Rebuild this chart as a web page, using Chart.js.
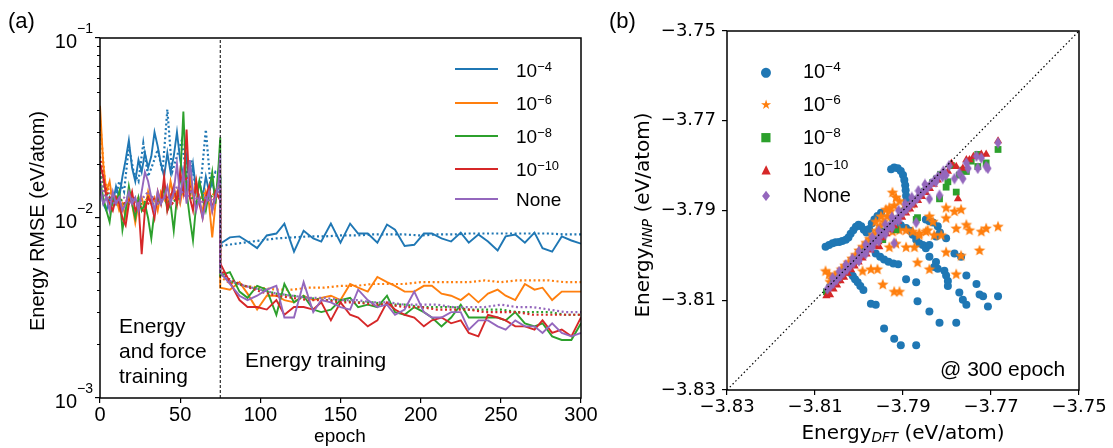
<!DOCTYPE html>
<html><head><meta charset="utf-8">
<script src="https://cdn.jsdelivr.net/npm/chart.js@4.4.1/dist/chart.umd.min.js"></script>
<style>
body{margin:0;background:#fff;}
#wrap{position:relative;width:1113px;height:448px;overflow:hidden;background:#fff;font-family:"Liberation Sans",Arial,sans-serif;color:#000}
.abs{position:absolute;white-space:nowrap;line-height:1}
.sp{font-size:0.68em;position:relative;top:-0.5em}
.sb{font-size:0.68em;font-style:italic;position:relative;top:0.22em}
.dj{font-family:"DejaVu Sans",sans-serif}
.ln{position:absolute;height:2px;width:43px}
.rot{transform:translate(-50%,-50%) rotate(-90deg)}
.mk{transform:translate(-50%,-50%)}
</style></head><body>
<div id="wrap">
<canvas id="c1" width="600" height="448" style="position:absolute;left:0;top:0"></canvas>
<canvas id="c2" width="513" height="448" style="position:absolute;left:600px;top:0"></canvas>

<div class="abs" style="left:8px;top:10px;font-size:22px">(a)</div>
<div class="abs" style="left:609px;top:10px;font-size:22px">(b)</div>

<div class="abs rot" style="left:37px;top:221px;font-size:20px">Energy RMSE (eV/atom)</div>
<div class="abs" style="left:340px;top:426px;font-size:19px;transform:translateX(-50%)">epoch</div>
<div class="abs" style="left:119px;top:313px;font-size:21px;line-height:25px">Energy<br>and force<br>training</div>
<div class="abs" style="left:245px;top:349px;font-size:21px">Energy training</div>

<div class="ln" style="left:455px;top:68px;background:#1f77b4"></div>
<div class="ln" style="left:455px;top:102px;background:#ff7f0e"></div>
<div class="ln" style="left:455px;top:135px;background:#2ca02c"></div>
<div class="ln" style="left:455px;top:168px;background:#d62728"></div>
<div class="ln" style="left:455px;top:198px;background:#9467bd"></div>
<div class="abs" style="left:516px;top:61px;font-size:19px">10<span class="sp">−4</span></div>
<div class="abs" style="left:516px;top:94px;font-size:19px">10<span class="sp">−6</span></div>
<div class="abs" style="left:516px;top:127px;font-size:19px">10<span class="sp">−8</span></div>
<div class="abs" style="left:516px;top:160px;font-size:19px">10<span class="sp">−10</span></div>
<div class="abs" style="left:516px;top:190px;font-size:19px">None</div>

<div class="abs dj rot" style="left:642px;top:215px;font-size:20px">Energy<span class="sb">NNP</span> (eV/atom)</div>
<div class="abs dj" style="left:903px;top:422px;font-size:20px;transform:translateX(-50%)">Energy<span class="sb">DFT</span> (eV/atom)</div>
<div class="abs" style="left:940px;top:358px;font-size:21px">@ 300 epoch</div>

<div class="abs dj mk" style="left:766px;top:71px;font-size:13px;color:#1f77b4">●</div>
<div class="abs dj mk" style="left:766px;top:104px;font-size:13px;color:#ff7f0e">★</div>
<div class="abs dj mk" style="left:766px;top:137px;font-size:12px;color:#2ca02c">■</div>
<div class="abs dj mk" style="left:766px;top:169px;font-size:12px;color:#d62728">▲</div>
<div class="abs dj mk" style="left:766px;top:196px;font-size:14px;color:#9467bd">♦</div>
<div class="abs" style="left:803px;top:61px;font-size:20px">10<span class="sp">−4</span></div>
<div class="abs" style="left:803px;top:94px;font-size:20px">10<span class="sp">−6</span></div>
<div class="abs" style="left:803px;top:127px;font-size:20px">10<span class="sp">−8</span></div>
<div class="abs" style="left:803px;top:159px;font-size:20px">10<span class="sp">−10</span></div>
<div class="abs" style="left:803px;top:185px;font-size:20px">None</div>
</div>
<script>
// ---------------- DATA (left panel) ----------------
const seriesLabels = ['1e-4','1e-6','1e-8','1e-10','None'];
const epochTicks = [0,50,100,150,200,250,300];
const rmseMajorTicks = [0.001,0.01,0.1];
const rmseMinorTicks = [0.002,0.003,0.004,0.005,0.006,0.007,0.008,0.009,0.02,0.03,0.04,0.05,0.06,0.07,0.08,0.09];
const switchEpoch = 75;

const epochsEarly = [0,2,4,6,8,10,12,14,16,18,20,22,24,26,28,30,32,34,36,38,40,42,44,46,48,50,52,54,56,58,60,62,64,66,68,70,72,74,75];
const epochsLate = [75,81,87,92,98,104,110,115,121,127,133,138,144,150,156,161,167,173,179,184,190,196,202,207,213,219,225,230,236,242,248,253,259,265,271,276,282,288,294,300];
const epochsDotEarly = [0,3,6,9,12,15,18,21,24,27,30,33,36,39,42,45,48,51,54,57,60,63,66,69,72,75];
const epochsDotLate = [75,80,90,100,110,120,130,140,150,160,170,180,190,200,210,220,230,240,250,260,270,280,290,300];

const blueSolidEarly = [0.015,0.012,0.011,0.013,0.012,0.015,0.013,0.017,0.021,0.027,0.019,0.016,0.021,0.018,0.023,0.019,0.022,0.030,0.025,0.020,0.017,0.023,0.018,0.022,0.030,0.021,0.017,0.022,0.015,0.020,0.014,0.016,0.013,0.017,0.014,0.016,0.013,0.015,0.016];
const orangeSolidEarly = [0.042,0.020,0.014,0.016,0.012,0.013,0.011,0.012,0.010,0.013,0.012,0.0094,0.012,0.013,0.011,0.014,0.012,0.013,0.011,0.014,0.013,0.012,0.016,0.013,0.014,0.012,0.015,0.013,0.017,0.013,0.016,0.012,0.011,0.014,0.012,0.0078,0.012,0.017,0.020];
const greenSolidEarly = [0.016,0.013,0.011,0.0095,0.013,0.012,0.014,0.0086,0.011,0.015,0.012,0.010,0.013,0.011,0.012,0.010,0.0077,0.011,0.013,0.012,0.015,0.011,0.012,0.0085,0.013,0.016,0.039,0.014,0.010,0.0075,0.012,0.016,0.013,0.011,0.014,0.018,0.012,0.020,0.028];
const redSolidEarly = [0.020,0.017,0.013,0.012,0.011,0.013,0.012,0.010,0.0091,0.012,0.014,0.011,0.012,0.0063,0.011,0.013,0.012,0.010,0.014,0.012,0.017,0.011,0.013,0.015,0.012,0.018,0.014,0.031,0.013,0.011,0.016,0.012,0.010,0.013,0.015,0.011,0.014,0.013,0.014];
const purpleSolidEarly = [0.015,0.012,0.013,0.011,0.014,0.012,0.013,0.011,0.012,0.014,0.012,0.013,0.011,0.014,0.018,0.016,0.013,0.011,0.014,0.012,0.013,0.015,0.012,0.014,0.020,0.013,0.018,0.012,0.021,0.014,0.011,0.013,0.010,0.012,0.014,0.011,0.013,0.016,0.023];

const blueSolidLate = [0.0072,0.0078,0.0079,0.0074,0.0068,0.0080,0.0082,0.0093,0.0065,0.0085,0.0077,0.0074,0.0093,0.0073,0.0093,0.0082,0.0082,0.0073,0.0092,0.0086,0.0070,0.0071,0.0082,0.0082,0.0077,0.0074,0.0083,0.0073,0.0081,0.0074,0.0066,0.0079,0.0081,0.0073,0.0083,0.0068,0.0065,0.0079,0.0075,0.0072];
const orangeSolidLate = [0.0041,0.0040,0.0044,0.0038,0.0031,0.0037,0.0037,0.0035,0.0034,0.0037,0.0035,0.0036,0.0037,0.0035,0.0043,0.0041,0.0039,0.0047,0.0044,0.0042,0.0039,0.0039,0.0042,0.0042,0.0038,0.0037,0.0035,0.0038,0.0034,0.0038,0.0040,0.0037,0.0035,0.0043,0.0040,0.0041,0.0035,0.0039,0.0039,0.0039];
const greenSolidLate = [0.0048,0.0050,0.0039,0.0036,0.0042,0.0040,0.0029,0.0043,0.0034,0.0037,0.0031,0.0030,0.0031,0.0035,0.0036,0.0032,0.0033,0.0032,0.0037,0.0030,0.0029,0.0032,0.0030,0.0028,0.0025,0.0028,0.0033,0.0028,0.0028,0.0028,0.0028,0.0027,0.0030,0.0026,0.0025,0.0026,0.0022,0.0021,0.0021,0.0026];
const redSolidLate = [0.0056,0.0044,0.0035,0.0032,0.0032,0.0031,0.0035,0.0029,0.0032,0.0032,0.0031,0.0034,0.0027,0.0034,0.0029,0.0028,0.0025,0.0027,0.0034,0.0031,0.0029,0.0028,0.0025,0.0027,0.0028,0.0026,0.0027,0.0023,0.0022,0.0029,0.0028,0.0027,0.0025,0.0025,0.0024,0.0027,0.0023,0.0024,0.0022,0.0028];
const purpleSolidLate = [0.0050,0.0043,0.0037,0.0035,0.0037,0.0040,0.0042,0.0028,0.0028,0.0044,0.0030,0.0035,0.0034,0.0032,0.0031,0.0040,0.0035,0.0032,0.0033,0.0029,0.0031,0.0039,0.0030,0.0028,0.0028,0.0030,0.0030,0.0024,0.0027,0.0027,0.0025,0.0024,0.0027,0.0025,0.0025,0.0023,0.0026,0.0023,0.0022,0.0023];

const blueDotEarly = [0.018,0.015,0.014,0.012,0.016,0.014,0.025,0.018,0.016,0.026,0.017,0.020,0.024,0.018,0.040,0.018,0.022,0.027,0.017,0.021,0.014,0.016,0.031,0.015,0.018,0.017];
const orangeDotEarly = [0.035,0.016,0.014,0.013,0.013,0.012,0.013,0.012,0.013,0.012,0.013,0.012,0.013,0.013,0.012,0.014,0.013,0.013,0.014,0.013,0.014,0.013,0.014,0.013,0.014,0.015];
const greenDotEarly = [0.018,0.014,0.013,0.012,0.013,0.012,0.012,0.013,0.012,0.012,0.013,0.012,0.012,0.013,0.012,0.013,0.012,0.014,0.016,0.013,0.012,0.013,0.012,0.013,0.014,0.016];
const redDotEarly = [0.022,0.015,0.013,0.012,0.012,0.012,0.013,0.012,0.012,0.011,0.012,0.013,0.012,0.013,0.013,0.012,0.013,0.014,0.017,0.014,0.013,0.012,0.013,0.012,0.013,0.014];
const purpleDotEarly = [0.017,0.013,0.013,0.012,0.013,0.013,0.012,0.013,0.012,0.013,0.014,0.013,0.012,0.013,0.013,0.013,0.015,0.014,0.013,0.014,0.013,0.012,0.013,0.012,0.013,0.015];

const blueDotLate = [0.0070,0.0071,0.0073,0.0075,0.0077,0.0078,0.0079,0.0079,0.0080,0.0080,0.0081,0.0081,0.0081,0.0080,0.0081,0.0081,0.0082,0.0082,0.0082,0.0082,0.0082,0.0082,0.0081,0.0081];
const orangeDotLate = [0.0047,0.0044,0.0042,0.0041,0.0040,0.0040,0.0041,0.0041,0.0042,0.0042,0.0043,0.0043,0.0043,0.0044,0.0044,0.0044,0.0044,0.0045,0.0044,0.0045,0.0045,0.0045,0.0044,0.0044];
const greenDotLate = [0.0050,0.0045,0.0042,0.0040,0.0038,0.0037,0.0036,0.0035,0.0035,0.0034,0.0034,0.0033,0.0033,0.0032,0.0032,0.0032,0.0031,0.0031,0.0031,0.0030,0.0030,0.0030,0.0029,0.0029];
const redDotLate = [0.0052,0.0046,0.0042,0.0039,0.0037,0.0036,0.0035,0.0035,0.0034,0.0034,0.0033,0.0033,0.0032,0.0032,0.0031,0.0031,0.0031,0.0030,0.0030,0.0030,0.0029,0.0029,0.0029,0.0029];
const purpleDotLate = [0.0049,0.0045,0.0042,0.0040,0.0038,0.0037,0.0036,0.0036,0.0035,0.0035,0.0034,0.0034,0.0033,0.0033,0.0033,0.0032,0.0032,0.0032,0.0033,0.0032,0.0032,0.0031,0.0030,0.0030];

// ---------------- DATA (right panel): [E_DFT, E_NNP] in eV/atom ----------------
const energyTicks = [-3.83,-3.81,-3.79,-3.77,-3.75];
const parityLine = [-3.83,-3.75];
const parity1e4 = [[-3.8076,-3.7981],[-3.8068,-3.7977],[-3.8060,-3.7973],[-3.8053,-3.7971],[-3.8045,-3.7970],[-3.8038,-3.7968],[-3.8030,-3.7965],[-3.8024,-3.7960],[-3.8019,-3.7952],[-3.8013,-3.7944],[-3.8007,-3.7936],[-3.8001,-3.7932],[-3.7995,-3.7935],[-3.7989,-3.7943],[-3.7983,-3.7949],[-3.7977,-3.7941],[-3.7971,-3.7929],[-3.7965,-3.7920],[-3.7958,-3.7912],[-3.7950,-3.7905],
[-3.7927,-3.7808],[-3.7920,-3.7804],[-3.7912,-3.7806],[-3.7905,-3.7812],[-3.7900,-3.7821],[-3.7897,-3.7832],[-3.7895,-3.7844],[-3.7894,-3.7855],[-3.7893,-3.7867],[-3.7892,-3.7878],[-3.7889,-3.7888],
[-3.8030,-3.8026],[-3.8025,-3.8032],[-3.8019,-3.8039],[-3.8014,-3.8046],[-3.8009,-3.8053],[-3.8003,-3.8060],[-3.7997,-3.8068],[-3.7990,-3.8077],[-3.7973,-3.8108],[-3.7962,-3.8110],
[-3.7962,-3.7996],[-3.7952,-3.8003],[-3.7943,-3.8009],[-3.7933,-3.8014],[-3.7922,-3.8018],[-3.7911,-3.8020],
[-3.7905,-3.7933],[-3.7893,-3.7939],[-3.7884,-3.7945],[-3.7878,-3.7954],[-3.7870,-3.7965],[-3.7863,-3.7973],[-3.7855,-3.7977],[-3.7848,-3.7984],
[-3.7848,-3.7920],[-3.7840,-3.7924],[-3.7832,-3.7927],[-3.7821,-3.7935],[-3.7816,-3.7949],
[-3.7840,-3.8003],[-3.7825,-3.8015],[-3.7821,-3.8030],[-3.7806,-3.8034],[-3.7802,-3.8045],[-3.7783,-3.7996],[-3.7768,-3.8003],[-3.7893,-3.8053],[-3.7870,-3.8060],[-3.7867,-3.8102],[-3.7840,-3.8125],[-3.7817,-3.8150],[-3.7779,-3.8150],[-3.7798,-3.8057],[-3.7798,-3.8068],[-3.7772,-3.8083],[-3.7764,-3.8099],[-3.7756,-3.8110],[-3.7733,-3.8064],[-3.7726,-3.8087],[-3.7718,-3.8091],[-3.7707,-3.8114],[-3.7684,-3.8091],[-3.7943,-3.8163],[-3.7920,-3.8186],[-3.7905,-3.8200],[-3.7870,-3.8200],[-3.7829,-3.8026],[-3.7802,-3.7962],[-3.7825,-3.7958],[-3.7840,-3.7977],[-3.7756,-3.8045]];
const parity1e6 = [[-3.8066,-3.8058],[-3.8062,-3.8052],[-3.8055,-3.8045],[-3.8047,-3.8038],[-3.8040,-3.8030],[-3.8032,-3.8022],[-3.8024,-3.8015],[-3.8016,-3.8006],[-3.8008,-3.7998],[-3.8000,-3.7988],[-3.7992,-3.7980],[-3.7984,-3.7971],[-3.7976,-3.7962],[-3.7968,-3.7953],[-3.7960,-3.7944],[-3.7952,-3.7934],[-3.7944,-3.7924],[-3.7936,-3.7912],[-3.7928,-3.7900],[-3.7920,-3.7888],
[-3.7924,-3.7859],[-3.7916,-3.7870],[-3.7908,-3.7878],[-3.7939,-3.7897],[-3.7931,-3.7893],[-3.7950,-3.7912],[-3.7962,-3.7924],[-3.7900,-3.7898],[-3.7890,-3.7893],[-3.7880,-3.7884],
[-3.7924,-3.7946],[-3.7908,-3.7943],[-3.7893,-3.7943],[-3.7878,-3.7946],[-3.7863,-3.7950],[-3.7848,-3.7946],
[-3.7802,-3.7893],[-3.7783,-3.7901],[-3.7768,-3.7897],[-3.7840,-3.7912],[-3.7832,-3.7924],[-3.7802,-3.7916],[-3.7756,-3.7931],[-3.7779,-3.7939],[-3.7749,-3.7943],[-3.7722,-3.7946],[-3.7684,-3.7935],[-3.7711,-3.7939],[-3.7844,-3.7943],[-3.7863,-3.7954],[-3.7829,-3.7954],[-3.7813,-3.7954],[-3.7893,-3.7981],[-3.7874,-3.7981],[-3.7931,-3.7981],[-3.7916,-3.7973],[-3.7802,-3.7992],[-3.7768,-3.8000],[-3.7726,-3.7988],[-3.7867,-3.8015],[-3.7840,-3.8030],[-3.7779,-3.8041],[-3.7992,-3.8034],[-3.7973,-3.8030],[-3.7958,-3.8030],[-3.7946,-3.8064],[-3.7920,-3.8080],[-3.7908,-3.8080],[-3.8076,-3.8034],[-3.8068,-3.8041]];
const parity1e8 = [[-3.8074,-3.8081],[-3.8066,-3.8071],[-3.8058,-3.8063],[-3.8049,-3.8055],[-3.8040,-3.8046],[-3.8031,-3.8037],[-3.8022,-3.8027],[-3.8013,-3.8019],[-3.8004,-3.8010],[-3.7995,-3.8000],[-3.7986,-3.7992],[-3.7977,-3.7982],[-3.7968,-3.7974],[-3.7959,-3.7965],[-3.7950,-3.7956],[-3.7941,-3.7946],[-3.7932,-3.7938],[-3.7923,-3.7929],[-3.7914,-3.7919],[-3.7905,-3.7911],[-3.7896,-3.7901],[-3.7887,-3.7893],[-3.7878,-3.7883],[-3.7869,-3.7875],[-3.7860,-3.7865],[-3.7851,-3.7857],[-3.7842,-3.7847],[-3.7833,-3.7838],[-3.7824,-3.7830],[-3.7815,-3.7820],
[-3.7946,-3.7965],[-3.7916,-3.7943],[-3.7870,-3.7920],[-3.7867,-3.7916],[-3.7817,-3.7874],[-3.7802,-3.7848],[-3.7798,-3.7836],[-3.7779,-3.7859],[-3.7764,-3.7810],[-3.7756,-3.7813],[-3.7730,-3.7802],[-3.7730,-3.7775],[-3.7711,-3.7794],[-3.7684,-3.7764],[-3.7772,-3.7821],[-3.7745,-3.7790],[-3.7790,-3.7800]];
const parity1e10 = [[-3.8074,-3.8090],[-3.8066,-3.8088],[-3.8058,-3.8075],[-3.8050,-3.8066],[-3.8042,-3.8057],[-3.8034,-3.8049],[-3.8026,-3.8040],[-3.8018,-3.8032],[-3.8010,-3.8024],[-3.8001,-3.8015],[-3.7992,-3.8006],[-3.7983,-3.7997],[-3.7974,-3.7988],[-3.7965,-3.7980],[-3.7956,-3.7970],[-3.7947,-3.7961],[-3.7938,-3.7952],[-3.7929,-3.7943],[-3.7920,-3.7934],[-3.7911,-3.7924],[-3.7902,-3.7915],[-3.7893,-3.7906],[-3.7884,-3.7897],[-3.7875,-3.7888],[-3.7866,-3.7878],[-3.7857,-3.7869],[-3.7848,-3.7860],[-3.7839,-3.7851],[-3.7830,-3.7842],[-3.7821,-3.7832],[-3.7812,-3.7822],
[-3.7775,-3.7874],[-3.7779,-3.7802],[-3.7749,-3.7787],[-3.7756,-3.7787],[-3.7711,-3.7775],[-3.7684,-3.7745],[-3.7798,-3.7813],[-3.7764,-3.7806],[-3.7722,-3.7775],[-3.7954,-3.7981],[-3.7790,-3.7795],[-3.7740,-3.7780]];
const parityNone = [[-3.8072,-3.8075],[-3.8065,-3.8069],[-3.8058,-3.8062],[-3.8050,-3.8054],[-3.8042,-3.8046],[-3.8035,-3.8038],[-3.8027,-3.8031],[-3.8020,-3.8024],[-3.8012,-3.8016],[-3.8004,-3.8008],[-3.7996,-3.8000],[-3.7988,-3.7993],[-3.7980,-3.7984],[-3.7972,-3.7976],[-3.7964,-3.7969],[-3.7956,-3.7960],[-3.7948,-3.7952],[-3.7940,-3.7945],[-3.7932,-3.7936],[-3.7924,-3.7928],[-3.7916,-3.7921],[-3.7908,-3.7912],[-3.7900,-3.7904],[-3.7892,-3.7897],[-3.7884,-3.7888],[-3.7876,-3.7880],[-3.7868,-3.7873],[-3.7860,-3.7864],[-3.7852,-3.7856],[-3.7844,-3.7849],[-3.7836,-3.7840],[-3.7828,-3.7832],[-3.7820,-3.7824],[-3.7808,-3.7812],[-3.7795,-3.7800],
[-3.8060,-3.8050],[-3.8045,-3.8036],[-3.8030,-3.8021],[-3.8015,-3.8007],[-3.8000,-3.7991],[-3.7985,-3.7976],[-3.7970,-3.7960],[-3.7955,-3.7945],[-3.7940,-3.7931],[-3.7925,-3.7915],[-3.7910,-3.7900],[-3.7895,-3.7886],[-3.7880,-3.7871],[-3.7865,-3.7856],[-3.7850,-3.7842],
[-3.8000,-3.8012],[-3.7985,-3.7997],[-3.7970,-3.7983],[-3.7955,-3.7968],[-3.7940,-3.7953],[-3.7925,-3.7938],[-3.7910,-3.7922],
[-3.7920,-3.7973],[-3.7870,-3.7927],[-3.7840,-3.7874],[-3.7817,-3.7866],[-3.7810,-3.7825],[-3.7783,-3.7829],[-3.7772,-3.7817],[-3.7764,-3.7829],[-3.7752,-3.7806],[-3.7733,-3.7779],[-3.7722,-3.7783],[-3.7711,-3.7802],[-3.7684,-3.7749],[-3.7730,-3.7806],[-3.7707,-3.7806],[-3.7756,-3.7794],[-3.7802,-3.7821],[-3.7825,-3.7836]];

// ---------------- STYLE ----------------
const colors = ['#1f77b4','#ff7f0e','#2ca02c','#d62728','#9467bd'];
const SANS = '"Liberation Sans", Arial, sans-serif';
const DJ = '"DejaVu Sans", sans-serif';

function pts(xs, ys){ return xs.map((x,i)=>({x:x, y:ys[i]})); }
function xy(arr){ return arr.map(p=>({x:p[0], y:p[1]})); }

const solidEarly = [blueSolidEarly, orangeSolidEarly, greenSolidEarly, redSolidEarly, purpleSolidEarly];
const solidLate = [blueSolidLate, orangeSolidLate, greenSolidLate, redSolidLate, purpleSolidLate];
const dotEarly = [blueDotEarly, orangeDotEarly, greenDotEarly, redDotEarly, purpleDotEarly];
const dotLate = [blueDotLate, orangeDotLate, greenDotLate, redDotLate, purpleDotLate];

const frame = { id:'frame', afterDatasetsDraw(chart){
  const {ctx, chartArea:a} = chart; ctx.save(); ctx.strokeStyle='#000'; ctx.lineWidth=1.5;
  ctx.strokeRect(a.left, a.top, a.right-a.left, a.bottom-a.top); ctx.restore(); } };

const logAxisDecor = { id:'logAxisDecor', afterDraw(chart){
  const y = chart.scales.y, ctx = chart.ctx; ctx.save();
  ctx.strokeStyle='#000'; ctx.lineWidth=1;
  rmseMinorTicks.forEach(v=>{ const p=Math.round(y.getPixelForValue(v))+0.5; ctx.beginPath(); ctx.moveTo(y.right-3,p); ctx.lineTo(y.right,p); ctx.stroke(); });
  ctx.fillStyle='#000'; ctx.textBaseline='alphabetic';
  rmseMajorTicks.forEach(v=>{
    const p = y.getPixelForValue(v); const sup = '\u2212' + Math.abs(Math.round(Math.log10(v)));
    ctx.font = '14px ' + SANS; const sw = ctx.measureText(sup).width; const right = y.right - 7;
    ctx.textAlign='left'; ctx.fillText(sup, right - sw, p - 5);
    ctx.font = '20px ' + SANS; ctx.textAlign='right'; ctx.fillText('10', right - sw, p + 10);
  });
  ctx.restore(); } };

const lineDatasets = [];
lineDatasets.push({ data: pts([switchEpoch, switchEpoch], [rmseMajorTicks[0], rmseMajorTicks[2]]), borderColor:'#000', borderWidth:1, borderDash:[3,2], order:0 });
for (let i=0;i<5;i++){
  lineDatasets.push({ label: seriesLabels[i], data: pts(epochsEarly.concat(epochsLate), solidEarly[i].concat(solidLate[i])),
    borderColor: colors[i], borderWidth: 1.9, order: 2*(5-i)-1 });
  lineDatasets.push({ label: seriesLabels[i]+' (train)', data: pts(epochsDotEarly.concat(epochsDotLate), dotEarly[i].concat(dotLate[i])),
    borderColor: colors[i], borderWidth: 2.2, borderDash:[2,2.6], order: 2*(5-i) });
}

const tickGrid = { display:true, drawOnChartArea:false, drawTicks:true, tickLength:5, color:'#000', lineWidth:1.2 };

new Chart(document.getElementById('c1'), {
  type:'line',
  data:{ datasets: lineDatasets },
  options:{
    responsive:false, animation:false, devicePixelRatio:1,
    layout:{ padding:{ left:0, top:38, right:19, bottom:0 } },
    plugins:{ legend:{display:false}, tooltip:{enabled:false} },
    elements:{ point:{ radius:0 }, line:{ tension:0, fill:false } },
    scales:{
      x:{ type:'linear', min:0, max:300,
        afterBuildTicks: s=>{ s.ticks = epochTicks.map(v=>({value:v})); },
        afterFit: s=>{ s.height = 50; },
        grid: tickGrid, border:{display:false},
        ticks:{ font:{family:SANS, size:20}, color:'#000', padding:0, maxRotation:0, autoSkip:false } },
      y:{ type:'logarithmic', min:0.001, max:0.1,
        afterBuildTicks: s=>{ s.ticks = rmseMajorTicks.map(v=>({value:v})); },
        afterFit: s=>{ s.width = 100; },
        grid: tickGrid, border:{display:false},
        ticks:{ callback: ()=> '', autoSkip:false } }
    }
  },
  plugins:[frame, logAxisDecor]
});

// custom marker images (shape only)
function starImg(color){ const c=document.createElement('canvas'); c.width=14; c.height=14; const g=c.getContext('2d'); g.fillStyle=color; g.beginPath();
  for(let i=0;i<10;i++){ const r=i%2?2.6:6.0; const a=-Math.PI/2+i*Math.PI/5; const px=7+r*Math.cos(a), py=7.6+r*Math.sin(a); if(i) g.lineTo(px,py); else g.moveTo(px,py);} g.closePath(); g.fill(); return c; }
function thinDiamondImg(color){ const c=document.createElement('canvas'); c.width=8; c.height=12; const g=c.getContext('2d'); g.fillStyle=color; g.beginPath();
  g.moveTo(4,0.3); g.lineTo(7.6,6); g.lineTo(4,11.7); g.lineTo(0.4,6); g.closePath(); g.fill(); return c; }

const parityData = [parity1e4, parity1e6, parity1e8, parity1e10, parityNone];
const markerStyles = ['circle', starImg(colors[1]), 'rect', 'triangle', thinDiamondImg(colors[4])];
const markerRadius = [4, 5, 4.8, 4.8, 5];
const scatterDatasets = [{ type:'line', data: pts(parityLine, parityLine), borderColor:'#000', borderWidth:1.2, borderDash:[1.5,2.5], pointRadius:0, order:0 }];
for (let i=0;i<5;i++){
  scatterDatasets.push({ label: seriesLabels[i], data: xy(parityData[i]), pointStyle: markerStyles[i], pointRadius: markerRadius[i],
    pointBackgroundColor: colors[i], pointBorderColor: colors[i], pointBorderWidth: 0, order: 5-i });
}

const energyAxis = (h, w) => ({ type:'linear', min:-3.83, max:-3.75,
  afterBuildTicks: s=>{ s.ticks = energyTicks.map(v=>({value:v})); },
  afterFit: s=>{ if (h) s.height = h; if (w) s.width = w; },
  grid: tickGrid, border:{display:false},
  ticks:{ font:{family:DJ, size:18}, color:'#000', padding: h ? 2 : 6, autoSkip:false, maxRotation:0,
    callback: v => v.toFixed(2).replace('-', '\u2212') } });

new Chart(document.getElementById('c2'), {
  type:'scatter',
  data:{ datasets: scatterDatasets },
  options:{
    responsive:false, animation:false, devicePixelRatio:1,
    layout:{ padding:{ left:0, top:31, right:34, bottom:0 } },
    plugins:{ legend:{display:false}, tooltip:{enabled:false} },
    scales:{ x: energyAxis(58, 0), y: energyAxis(0, 127) }
  },
  plugins:[frame]
});
</script>
</body></html>
